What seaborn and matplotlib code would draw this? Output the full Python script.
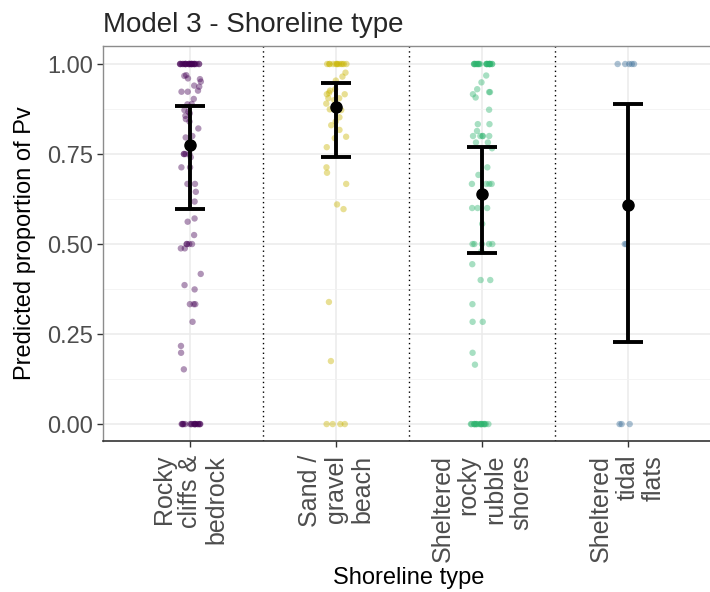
import numpy as np
import pandas as pd
import matplotlib
matplotlib.use("Agg")
import matplotlib.pyplot as plt
import seaborn as sns

sns.set_style("white")
plt.rcParams["font.family"] = ["Liberation Sans", "DejaVu Sans"]

# ---------------- data ----------------
categories = [
    "Rocky\ncliffs &\nbedrock",
    "Sand /\ngravel\nbeach",
    "Sheltered\nrocky\nrubble\nshores",
    "Sheltered\ntidal\nflats",
]
colors = ["#440154", "#C9B500", "#2DB46E", "#3A6E98"]

rocky_vals = [1.0] * 26 + [
    0.969, 0.967, 0.960, 0.958, 0.951, 0.940, 0.937, 0.926, 0.923, 0.923,
    0.903, 0.889, 0.888, 0.872, 0.868, 0.863, 0.856, 0.847, 0.840, 0.821,
    0.800, 0.796, 0.750, 0.750, 0.750, 0.750, 0.741, 0.713, 0.713, 0.667,
    0.667, 0.645, 0.618, 0.571, 0.562, 0.525, 0.5, 0.5, 0.5, 0.5,
    0.488, 0.488, 0.417, 0.386, 0.374, 0.333, 0.333, 0.333, 0.284, 0.217,
    0.198, 0.152,
] + [0.0] * 18

sand_vals = [1.0] * 12 + [
    0.976, 0.965, 0.954, 0.930, 0.926, 0.920, 0.916, 0.916, 0.905, 0.905,
    0.900, 0.890, 0.874, 0.872, 0.852, 0.840, 0.830, 0.817, 0.798, 0.794,
    0.769, 0.713, 0.698, 0.667, 0.610, 0.597, 0.339, 0.175,
] + [0.0] * 4

rubble_vals = [1.0] * 22 + [
    0.968, 0.949, 0.930, 0.922, 0.922, 0.916, 0.907, 0.873, 0.833, 0.833,
    0.814, 0.800, 0.800, 0.800, 0.800, 0.800, 0.782, 0.782, 0.766, 0.713,
    0.692, 0.667, 0.667, 0.667, 0.667, 0.600, 0.600, 0.600, 0.556, 0.5,
    0.5, 0.5, 0.5, 0.5, 0.480, 0.444, 0.400, 0.400, 0.333, 0.284,
    0.284, 0.198, 0.165,
] + [0.0] * 18

tidal_vals = [1.0] * 5 + [0.5] * 2 + [0.0] * 3

means = [0.775, 0.880, 0.638, 0.608]
lower = [0.597, 0.743, 0.475, 0.229]
upper = [0.883, 0.946, 0.770, 0.889]

yticks = [0.0, 0.25, 0.5, 0.75, 1.0]
ytick_labels = ["0.00", "0.25", "0.50", "0.75", "1.00"]

# ---------------- build frame ----------------
df = pd.DataFrame({
    "type": [categories[0]] * len(rocky_vals) + [categories[1]] * len(sand_vals)
    + [categories[2]] * len(rubble_vals) + [categories[3]] * len(tidal_vals),
    "prop": rocky_vals + sand_vals + rubble_vals + tidal_vals,
})

# ---------------- figure ----------------
fig = plt.figure(figsize=(7.10, 5.92), dpi=100)
W, H = 710, 592
left, right, top, bottom = 103, 715, 46, 441
ax = fig.add_axes([left / W, 1 - bottom / H, (right - left) / W, (bottom - top) / H])

np.random.seed(3)
sns.stripplot(data=df, x="type", y="prop", hue="type", order=categories,
              hue_order=categories, palette=colors, jitter=0.075, size=4.6,
              alpha=0.42, linewidth=0, legend=False, ax=ax, zorder=3)

xpos = np.arange(len(categories))
m = np.array(means)
ax.errorbar(xpos, m, yerr=[m - np.array(lower), np.array(upper) - m],
            fmt="o", color="black", ms=8, elinewidth=2.8, capsize=10.5,
            capthick=2.8, zorder=5)

for xv in xpos[:-1] + 0.5:
    ax.axvline(xv, color="black", ls=(0, (1, 2.5)), lw=1.0, zorder=2)

ax.set_xlim(-0.6, 3.6)
ax.set_ylim(-0.047, 1.05)
ax.set_yticks(yticks)
ax.set_yticklabels(ytick_labels)
ax.set_yticks([0.125, 0.375, 0.625, 0.875], minor=True)

ax.grid(which="major", color="#EBEBEB", lw=1.1)
ax.grid(which="minor", axis="y", color="#F2F2F2", lw=0.6)
ax.set_axisbelow(True)

for s in ["left", "top", "right"]:
    ax.spines[s].set_color("#8C8C8C")
    ax.spines[s].set_linewidth(1.0)
ax.spines["bottom"].set_color("#333333")
ax.spines["bottom"].set_linewidth(1.2)

ax.tick_params(axis="y", which="major", length=4, width=1, color="#333333",
               labelsize=17, labelcolor="#4D4D4D", pad=3, left=True)
ax.tick_params(axis="y", which="minor", length=0)
ax.tick_params(axis="x", length=4, width=1, color="#333333", labelsize=18,
               labelcolor="#4D4D4D", pad=6, bottom=True)

ax.set_xticks(xpos)
ax.set_xticklabels(categories, rotation=90, ha="center", va="top",
                   multialignment="right", linespacing=1.12)

ax.set_xlabel("Shoreline type", fontsize=17, color="black", labelpad=4)
ax.set_ylabel("Predicted proportion of Pv", fontsize=17, color="black", labelpad=8)
ax.set_title("Model 3 - Shoreline type", loc="left", fontsize=20, pad=10)

fig.savefig("out.png", dpi=100)
